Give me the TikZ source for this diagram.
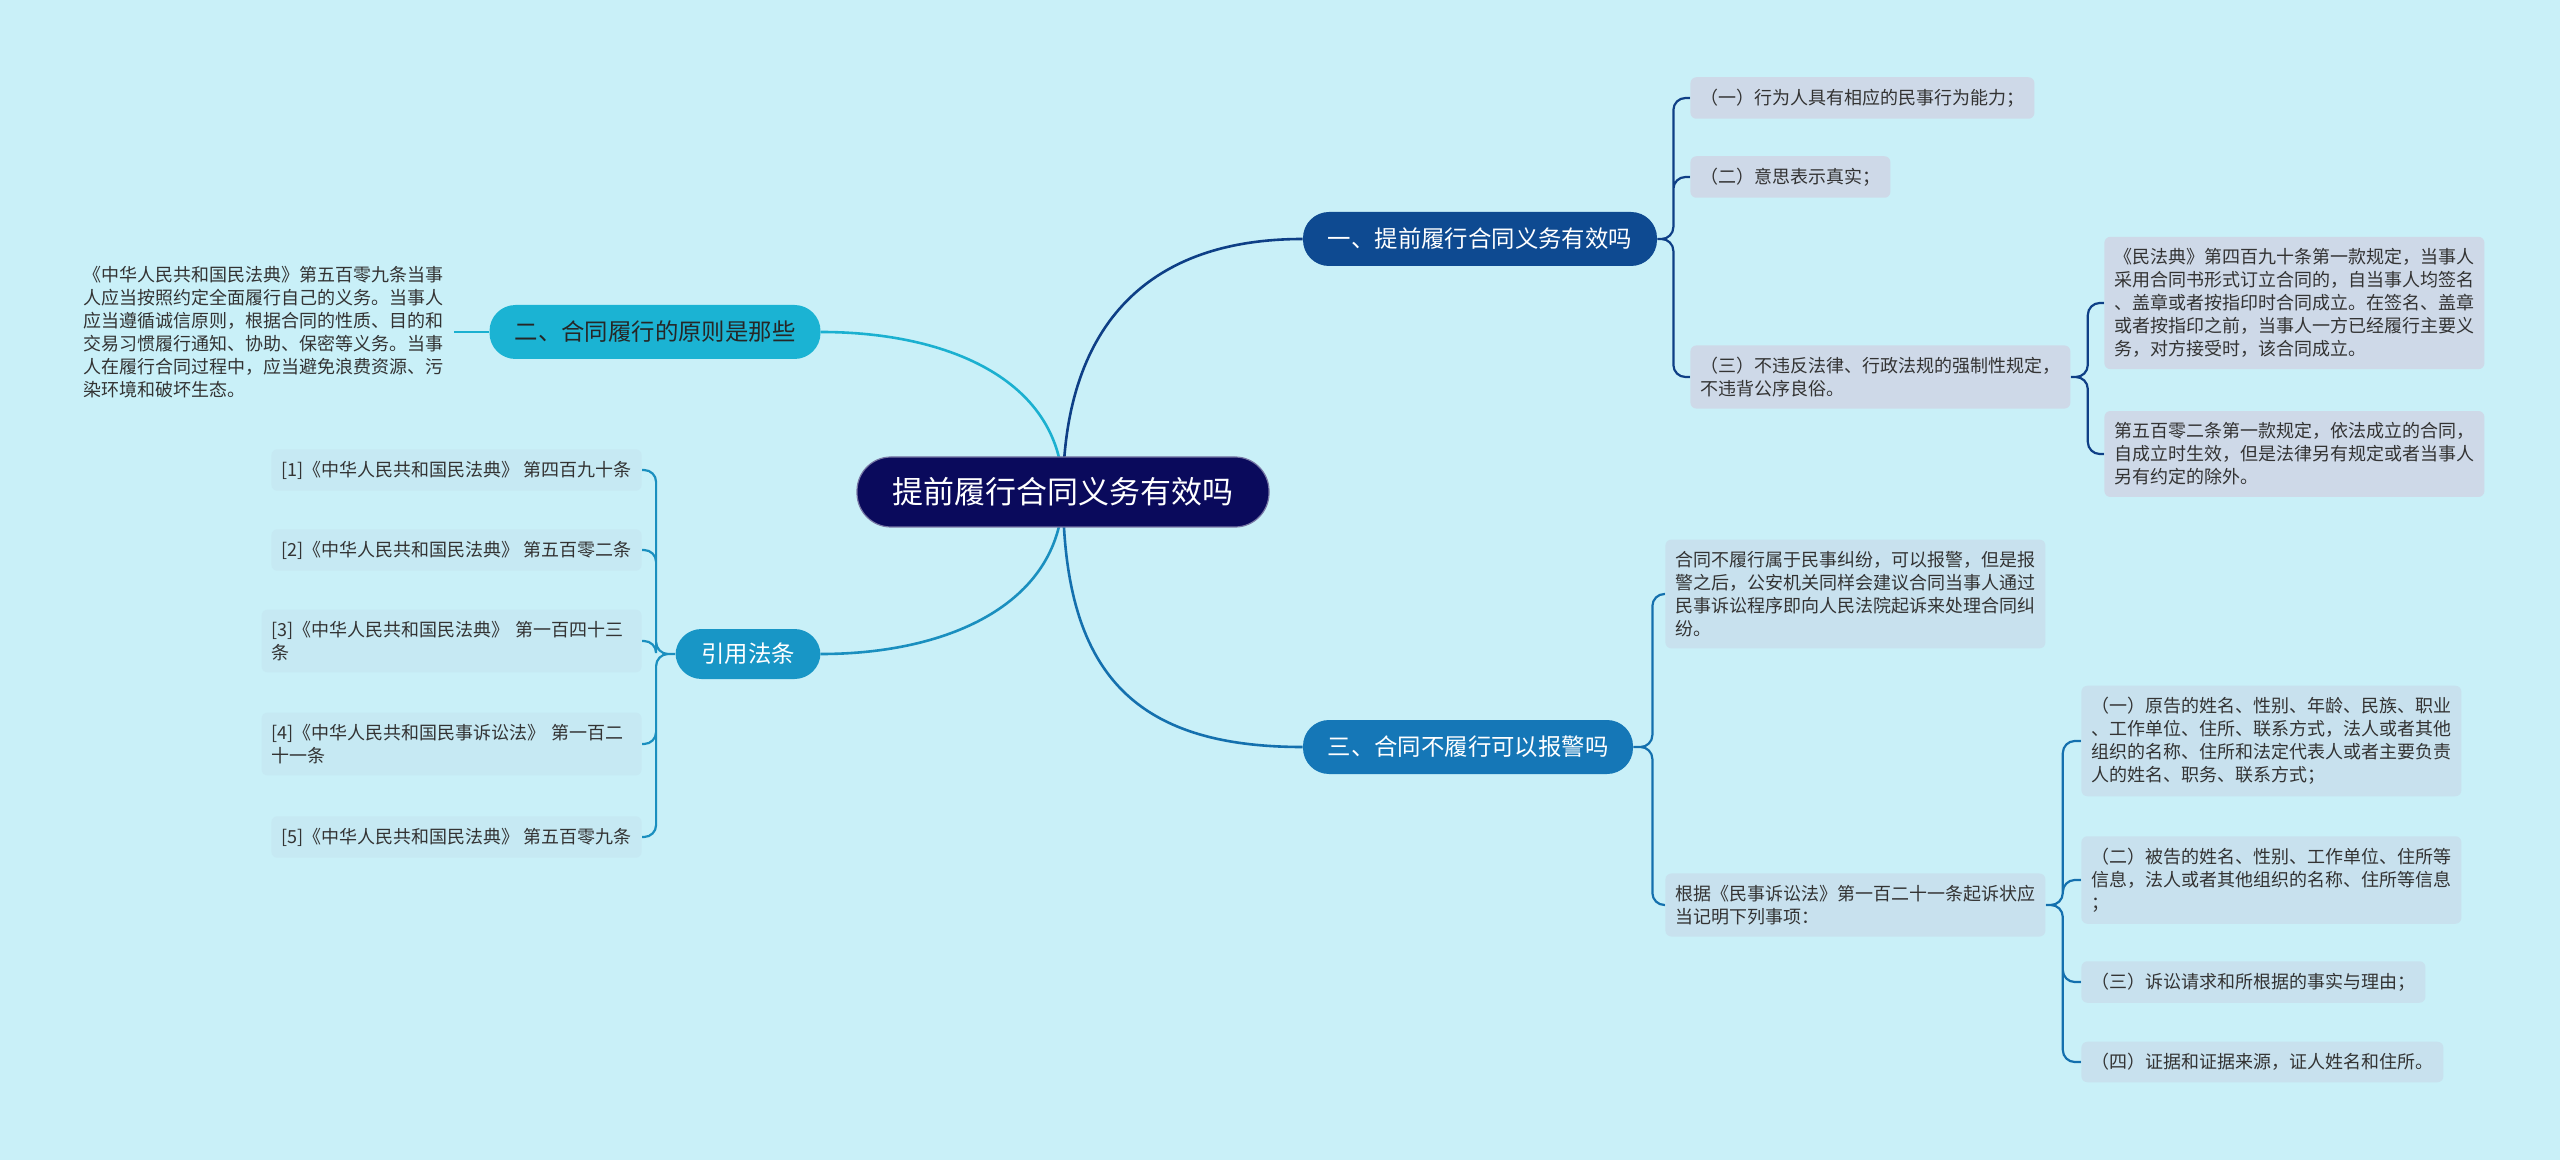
\documentclass[tikz,border=0pt]{standalone}
\usepackage{fontspec}
\setmainfont{Noto Sans CJK SC}
\usepackage{xcolor}
\usetikzlibrary{positioning}

\definecolor{bgcol}{HTML}{C9F0F8}
\definecolor{rootcol}{HTML}{0A0A5C}
\definecolor{onecol}{HTML}{0E4A91}
\definecolor{twocol}{HTML}{1BB3D3}
\definecolor{citecol}{HTML}{1896C6}
\definecolor{threecol}{HTML}{1577B7}
\definecolor{leafone}{HTML}{CED9E8}
\definecolor{leafthree}{HTML}{C8E1EE}
\definecolor{leafcite}{HTML}{C6E9F3}
\definecolor{txtcol}{HTML}{333333}
\definecolor{linkone}{HTML}{0E3F86}
\definecolor{linktwo}{HTML}{1BB0D0}
\definecolor{linkcite}{HTML}{1A8FBF}
\definecolor{linkthree}{HTML}{1470AE}

\pgfdeclarelayer{bg}
\pgfdeclarelayer{links}
\pgfsetlayers{bg,links,main}

\begin{document}
\begin{tikzpicture}[
  x=0.5pt, y=-0.5pt,
  rootnode/.style={rectangle, rounded corners=17pt, fill=rootcol, draw=white!45!rootcol, line width=0.6pt, text=white, minimum width=206pt, minimum height=35pt, font=\fontsize{15.5}{18}\selectfont},
  branch/.style={rectangle, rounded corners=13pt, minimum height=27pt, text=white, font=\fontsize{11.7}{14}\selectfont},
  leaf/.style={rectangle, rounded corners=3pt, align=left, inner xsep=5pt, inner ysep=5.8pt, text=txtcol, font=\fontsize{9}{11.5}\selectfont},
  wide/.style={text width=180pt},
  link/.style={line width=1.3pt},
  bracket/.style={line width=1.1pt, rounded corners=6pt}
]
  \begin{pgfonlayer}{bg}
    \fill[bgcol] (0,0) rectangle (2560,1160);
  \end{pgfonlayer}
  \useasboundingbox (0,0) rectangle (2560,1160);

  \node[rootnode] (root) at (1063,492) {提前履行合同义务有效吗};

  \node[branch, fill=onecol, minimum width=177pt] (one) at (1480,239) {一、提前履行合同义务有效吗};
  \node[branch, fill=twocol, text=black!85, minimum width=165.5pt] (two) at (655,332) {二、合同履行的原则是那些};
  \node[branch, fill=citecol, minimum width=72.5pt, minimum height=25pt] (cite) at (748,654) {引用法条};
  \node[branch, fill=threecol, minimum width=165pt] (three) at (1468,747) {三、合同不履行可以报警吗};

  \node[leaf, wide, left=17.5pt of two] (twotext) {《中华人民共和国民法典》第五百零九条当事\\人应当按照约定全面履行自己的义务。当事人\\应当遵循诚信原则，根据合同的性质、目的和\\交易习惯履行通知、协助、保密等义务。当事\\人在履行合同过程中，应当避免浪费资源、污\\染环境和破坏生态。};

  \node[leaf, fill=leafone, anchor=west] (oneA) at (1690,98) {（一）行为人具有相应的民事行为能力；};
  \node[leaf, fill=leafone, anchor=west] (oneB) at (1690,177) {（二）意思表示真实；};
  \node[leaf, fill=leafone, wide, anchor=west] (oneC) at (1690,377) {（三）不违反法律、行政法规的强制性规定，\\不违背公序良俗。};
  \node[leaf, fill=leafone, wide, anchor=west] (oneCa) at (2104,303) {《民法典》第四百九十条第一款规定，当事人\\采用合同书形式订立合同的，自当事人均签名\\、盖章或者按指印时合同成立。在签名、盖章\\或者按指印之前，当事人一方已经履行主要义\\务，对方接受时，该合同成立。};
  \node[leaf, fill=leafone, wide, anchor=west] (oneCb) at (2104,454) {第五百零二条第一款规定，依法成立的合同，\\自成立时生效，但是法律另有规定或者当事人\\另有约定的除外。};

  \node[leaf, fill=leafcite, anchor=east] (citeA) at (642,470) {[1]《中华人民共和国民法典》 第四百九十条};
  \node[leaf, fill=leafcite, anchor=east] (citeB) at (642,550) {[2]《中华人民共和国民法典》 第五百零二条};
  \node[leaf, fill=leafcite, wide, anchor=east] (citeC) at (642,641) {[3]《中华人民共和国民法典》 第一百四十三\\条};
  \node[leaf, fill=leafcite, wide, anchor=east] (citeD) at (642,744) {[4]《中华人民共和国民事诉讼法》 第一百二\\十一条};
  \node[leaf, fill=leafcite, anchor=east] (citeE) at (642,837) {[5]《中华人民共和国民法典》 第五百零九条};

  \node[leaf, fill=leafthree, wide, anchor=west] (threeA) at (1665,594) {合同不履行属于民事纠纷，可以报警，但是报\\警之后，公安机关同样会建议合同当事人通过\\民事诉讼程序即向人民法院起诉来处理合同纠\\纷。};
  \node[leaf, fill=leafthree, wide, anchor=west] (threeB) at (1665,905) {根据《民事诉讼法》第一百二十一条起诉状应\\当记明下列事项：};
  \node[leaf, fill=leafthree, wide, anchor=west] (threeBa) at (2081,741) {（一）原告的姓名、性别、年龄、民族、职业\\、工作单位、住所、联系方式，法人或者其他\\组织的名称、住所和法定代表人或者主要负责\\人的姓名、职务、联系方式；};
  \node[leaf, fill=leafthree, wide, anchor=west] (threeBb) at (2081,880) {（二）被告的姓名、性别、工作单位、住所等\\信息，法人或者其他组织的名称、住所等信息\\；};
  \node[leaf, fill=leafthree, anchor=west] (threeBc) at (2081,982) {（三）诉讼请求和所根据的事实与理由；};
  \node[leaf, fill=leafthree, anchor=west] (threeBd) at (2081,1062) {（四）证据和证据来源，证人姓名和住所。};

  \begin{pgfonlayer}{links}
    \draw[link, draw=linkone] (root.center) .. controls +(0,-150) and +(-170,0) .. (one.west);
    \draw[link, draw=linktwo] (root.center) .. controls +(0,-110) and +(130,0) .. (two.east);
    \draw[link, draw=linkcite] (root.center) .. controls +(0,110) and +(130,0) .. (cite.east);
    \draw[link, draw=linkthree] (root.center) .. controls +(0,180) and +(-170,0) .. (three.west);
    \draw[link, draw=linktwo] (two.west) -- (twotext.east);

    \draw[bracket, draw=linkone] (one.east) -- ++(16,0) |- (oneA.west)
      (one.east) -- ++(16,0) |- (oneB.west)
      (one.east) -- ++(16,0) |- (oneC.west);
    \draw[bracket, draw=linkone] (oneC.east) -- ++(17,0) |- (oneCa.west)
      (oneC.east) -- ++(17,0) |- (oneCb.west);
    \draw[bracket, draw=linkcite] (cite.west) -- ++(-19,0) |- (citeA.east)
      (cite.west) -- ++(-19,0) |- (citeB.east)
      (cite.west) -- ++(-19,0) |- (citeC.east)
      (cite.west) -- ++(-19,0) |- (citeD.east)
      (cite.west) -- ++(-19,0) |- (citeE.east);
    \draw[bracket, draw=linkthree] (three.east) -- ++(19,0) |- (threeA.west)
      (three.east) -- ++(19,0) |- (threeB.west);
    \draw[bracket, draw=linkthree] (threeB.east) -- ++(17,0) |- (threeBa.west)
      (threeB.east) -- ++(17,0) |- (threeBb.west)
      (threeB.east) -- ++(17,0) |- (threeBc.west)
      (threeB.east) -- ++(17,0) |- (threeBd.west);
  \end{pgfonlayer}
\end{tikzpicture}
\end{document}
